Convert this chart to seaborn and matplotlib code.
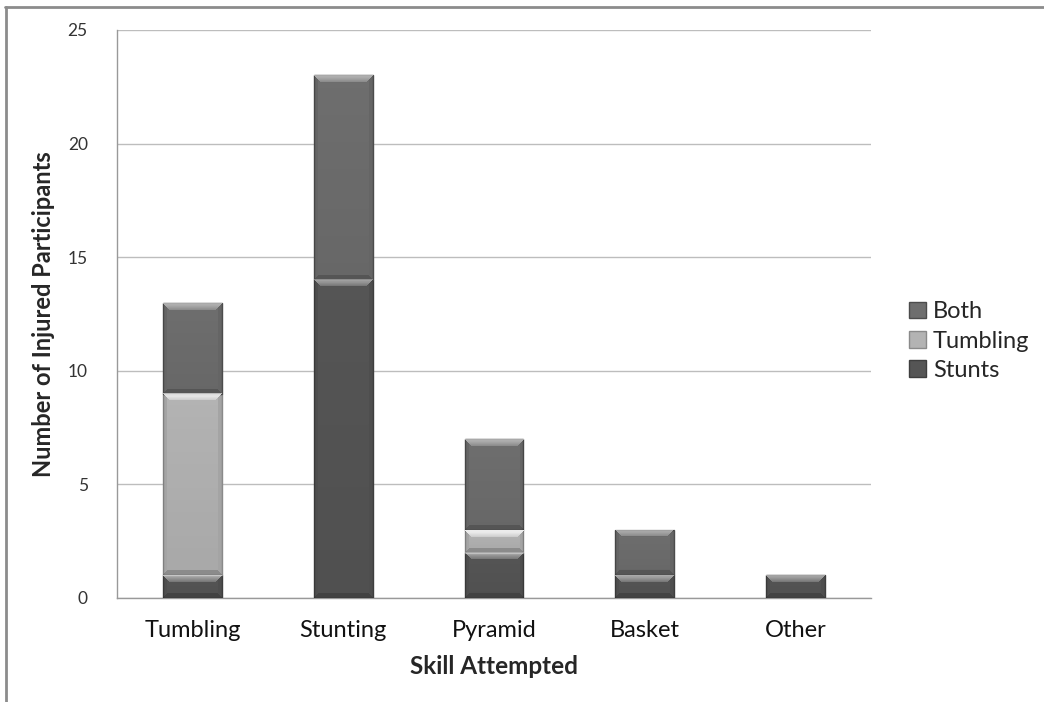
import matplotlib
matplotlib.use("Agg")
import matplotlib.pyplot as plt
from matplotlib.lines import Line2D
from matplotlib.patches import Patch
import numpy as np
import pandas as pd
import seaborn as sns

# Injury counts by skill attempted, split by cheer background
skills = ["Tumbling", "Stunting", "Pyramid", "Basket", "Other"]
stunts = [1, 14, 2, 1, 1]
tumbling = [8, 0, 1, 0, 0]
both = [4, 9, 4, 2, 0]

series_names = ["Stunts", "Tumbling", "Both"]
series_colors = {"Stunts": "#555555", "Tumbling": "#b3b3b3", "Both": "#6e6e6e"}
edge_colors = {"Stunts": "#3e3e3e", "Tumbling": "#8a8a8a", "Both": "#4c4c4c"}

y_ticks = [0, 5, 10, 15, 20, 25]

sns.set_theme(style="white")
plt.rcParams["font.family"] = ["Lato", "DejaVu Sans"]

W_PX, H_PX = 1044, 702
fig = plt.figure(figsize=(W_PX / 100, H_PX / 100), dpi=100)
ax = fig.add_axes([117 / W_PX, 1 - 598 / H_PX, (871 - 117) / W_PX, (598 - 30) / H_PX])

df = pd.DataFrame({"skill": skills, "Stunts": stunts, "Tumbling": tumbling, "Both": both})

bottom = np.zeros(len(skills))
for name in series_names:
    n_before = len(ax.patches)
    sns.barplot(data=df, x="skill", y=name, order=skills, bottom=bottom,
                color=series_colors[name], width=0.39, saturation=1,
                edgecolor=edge_colors[name], linewidth=1.0, ax=ax, zorder=3)
    for p in ax.patches[n_before:]:
        p.set_gid(name)
    bottom = bottom + df[name].to_numpy()

ax.set_ylim(0, 25)
ax.set_xlim(-0.5, len(skills) - 0.5)


def bevel_image(h_px, w_px, top_strength, b=7):
    """RGBA overlay giving a bevelled look: light top rim, darker sides and base."""
    yy, xx = np.mgrid[0:h_px, 0:w_px].astype(float) + 0.5
    d_top = yy
    d_bot = h_px - yy
    d_side = np.minimum(xx, w_px - xx)
    img = np.zeros((h_px, w_px, 4))
    top = (d_top < b) & (d_top <= d_side) & (d_top <= d_bot)
    bot = (d_bot < b * 0.7) & (d_bot <= d_side) & ~top
    side = (d_side < b * 0.6) & ~top & ~bot
    fade_top = 1 - d_top / b
    img[top, :3] = 1.0
    img[top, 3] = top_strength * (0.35 + 0.65 * fade_top[top])
    img[bot, :3] = 0.0
    img[bot, 3] = 0.22
    img[side, :3] = 0.0
    img[side, 3] = 0.08
    face = ~(top | bot | side)
    img[face, :3] = 0.0
    img[face, 3] = 0.06 * (yy[face] / h_px)
    return img


fig.canvas.draw()
for p in list(ax.patches):
    if p.get_height() <= 0:
        p.remove()
        continue
    x0, y0 = p.get_x(), p.get_y()
    w, h = p.get_width(), p.get_height()
    (px0, py0), (px1, py1) = ax.transData.transform([(x0, y0), (x0 + w, y0 + h)])
    h_px = max(int(round(abs(py1 - py0))), 2)
    w_px = max(int(round(abs(px1 - px0))), 2)
    strength = 0.95 if p.get_gid() == "Tumbling" else 0.55
    ax.imshow(bevel_image(h_px, w_px, strength), extent=(x0, x0 + w, y0, y0 + h),
              origin="upper", aspect="auto", interpolation="bilinear", zorder=3.5,
              clip_path=p, clip_on=True)

ax.set_ylim(0, 25)
ax.set_xlim(-0.5, len(skills) - 0.5)
ax.set_yticks(y_ticks)
ax.set_yticklabels([str(t) for t in y_ticks], fontsize=12.5, color="#333333")
ax.set_xticks(range(len(skills)))
ax.set_xticklabels(skills, fontsize=17, color="#111111")
ax.set_xticks(np.arange(-0.5, len(skills), 1.0), minor=True)
ax.tick_params(axis="x", which="major", length=0, pad=16)
ax.tick_params(axis="x", which="minor", length=7, width=1, color="#999999", direction="out")
ax.tick_params(axis="y", length=7, width=1, color="#999999", direction="out", pad=14)
ax.grid(axis="y", color="#bdbdbd", lw=1, zorder=0)
for side in ["top", "right"]:
    ax.spines[side].set_visible(False)
for side in ["left", "bottom"]:
    ax.spines[side].set_color("#999999")
    ax.spines[side].set_linewidth(1)
ax.set_axisbelow(True)

ax.set_xlabel("Skill Attempted", fontsize=17.5, fontweight="bold", labelpad=10)
ax.set_ylabel("Number of Injured Participants", fontsize=17, fontweight="bold", labelpad=9)

handles = [Patch(facecolor=series_colors[n], edgecolor=edge_colors[n], label=n)
           for n in ["Both", "Tumbling", "Stunts"]]
fig.legend(handles=handles, loc="center left", bbox_to_anchor=(900 / W_PX, 1 - 341 / H_PX),
           frameon=False, fontsize=17, handlelength=0.7, handleheight=0.7,
           handletextpad=0.3, labelspacing=0.35, borderaxespad=0)

# outer chart frame
fig.add_artist(Line2D([5 / W_PX, 1], [1 - 6.5 / H_PX, 1 - 6.5 / H_PX], color="#8c8c8c", lw=2,
                      transform=fig.transFigure))
fig.add_artist(Line2D([5.5 / W_PX, 5.5 / W_PX], [0, 1 - 6.5 / H_PX], color="#8c8c8c", lw=2,
                      transform=fig.transFigure))

fig.savefig("out.png", dpi=100, facecolor="white")
